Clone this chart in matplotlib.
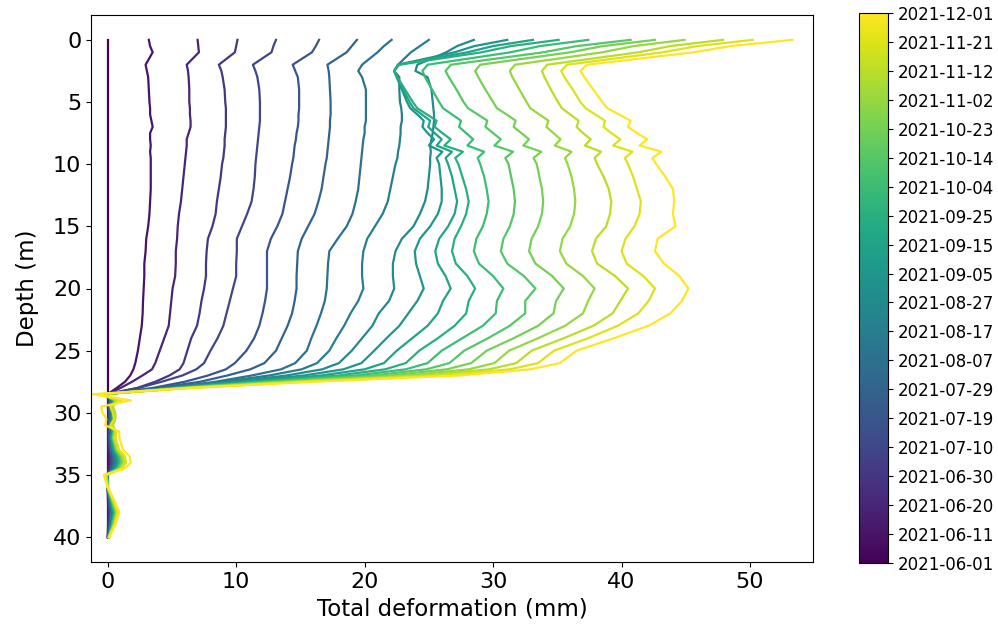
import numpy as np
import matplotlib
matplotlib.use("Agg")
import matplotlib.pyplot as plt
import matplotlib.dates as mdates
from datetime import datetime

# Depth grid (m): upper section then lower section
DEPTH_UP = [0, 0.5, 1, 2, 2.5, 3, 4, 5, 5.5, 6, 6.5, 7, 7.5, 8, 8.5, 9, 9.5, 10,
            11, 12, 13, 14, 15, 16, 17, 18, 19, 20, 21, 22, 23, 24, 25, 26,
            26.5, 27, 27.5, 28]
DEPTH_LO = [28.5, 29, 29.5, 30, 30.5, 31, 31.5, 32, 33, 33.5, 34, 34.5, 35,
            36, 37, 38, 39, 40]

# Total deformation (mm) per survey, upper section
UP_00 = [0.0] * 38
UP_01 = [3.2, 3.3, 3.5, 2.95, 3.05, 3.15, 3.2, 3.25, 3.3, 3.3, 3.4, 3.5, 3.3, 3.3, 3.35, 3.3, 3.35, 3.35,
         3.35, 3.35, 3.3, 3.25, 3.15, 3.0, 2.95, 2.85, 2.85, 2.8, 2.75, 2.72, 2.65, 2.5, 2.35, 2.15, 2.0, 1.75, 1.35, 0.7]
UP_02 = [7.0, 7.05, 7.1, 6.15, 6.25, 6.3, 6.35, 6.35, 6.4, 6.4, 6.45, 6.45, 6.3, 6.15, 6.15, 6.1, 6.05, 6.0,
         5.9, 5.8, 5.7, 5.55, 5.45, 5.4, 5.3, 5.3, 5.25, 5.05, 4.95, 4.85, 4.75, 4.4, 4.05, 3.7, 3.45, 2.7, 1.9, 1.0]
UP_03 = [10.1, 10.0, 9.9, 8.65, 8.85, 8.95, 9.1, 9.15, 9.2, 9.2, 9.2, 9.2, 9.15, 9.1, 9.1, 9.05, 9.0, 8.9,
         8.8, 8.65, 8.5, 8.4, 8.15, 7.8, 7.7, 7.65, 7.65, 7.5, 7.3, 7.15, 6.95, 6.5, 6.2, 5.9, 5.6, 4.8, 3.7, 2.3]
UP_04 = [13.1, 12.9, 12.75, 11.3, 11.5, 11.65, 11.8, 11.85, 11.85, 11.85, 11.85, 11.8, 11.75, 11.7, 11.65, 11.6, 11.55, 11.5,
         11.45, 11.35, 11.2, 10.85, 10.45, 10.05, 10.05, 10.0, 10.0, 9.75, 9.5, 9.25, 9.0, 8.55, 8.0, 7.5, 6.9, 5.8, 4.2, 2.4]
UP_05 = [16.45, 16.2, 15.9, 14.4, 14.6, 14.8, 14.9, 14.9, 14.9, 14.85, 14.85, 14.8, 14.7, 14.65, 14.55, 14.5, 14.45, 14.35,
         14.2, 14.0, 13.8, 13.6, 13.2, 12.7, 12.4, 12.4, 12.4, 12.4, 12.25, 12.05, 11.8, 11.4, 10.8, 9.9, 9.2, 7.8, 6.0, 3.5]
UP_06 = [19.4, 19.0, 18.6, 17.1, 17.2, 17.25, 17.3, 17.35, 17.35, 17.35, 17.3, 17.3, 17.25, 17.2, 17.15, 17.1, 17.05, 16.95,
         16.8, 16.65, 16.4, 16.1, 15.6, 15.1, 14.8, 14.75, 14.7, 14.7, 14.55, 14.35, 14.0, 13.55, 13.1, 12.2, 11.1, 9.3, 7.2, 3.9]
UP_07 = [22.1, 21.5, 21.0, 19.8, 19.5, 19.8, 20.1, 20.1, 20.1, 20.1, 20.1, 20.0, 20.0, 19.9, 19.85, 19.8, 19.75, 19.7,
         19.6, 19.5, 19.3, 19.05, 18.6, 17.9, 17.25, 17.15, 17.1, 17.05, 16.9, 16.6, 16.25, 15.85, 15.5, 14.6, 13.5, 11.2, 8.4, 4.6]
UP_08 = [25.0, 24.3, 23.6, 22.6, 22.3, 22.7, 22.7, 22.75, 22.85, 22.9, 22.9, 22.8, 22.8, 22.75, 22.7, 22.6, 22.55, 22.4,
         22.2, 22.0, 21.8, 21.4, 20.8, 20.2, 19.9, 19.8, 19.8, 19.9, 19.5, 18.9, 18.4, 17.8, 17.25, 16.3, 15.1, 12.55, 9.0, 4.8]
UP_09 = [28.5, 27.2, 26.35, 24.1, 23.95, 24.9, 25.2, 25.3, 25.35, 25.4, 25.4, 25.35, 25.3, 25.2, 25.1, 25.15, 25.1, 25.1,
         25.0, 24.9, 24.7, 24.3, 23.8, 22.9, 22.4, 22.2, 22.2, 22.3, 21.9, 21.1, 20.6, 19.8, 19.0, 18.0, 16.7, 13.9, 9.7, 4.9]
UP_10 = [31.1, 28.55, 27.0, 22.6, 22.3, 22.5, 22.9, 23.3, 23.55, 24.1, 24.6, 24.5, 24.9, 25.4, 25.0, 26.05, 25.6, 25.8,
         25.9, 26.0, 26.0, 25.7, 25.1, 24.3, 23.9, 24.0, 24.3, 24.6, 24.1, 23.4, 22.7, 21.7, 20.75, 19.75, 18.35, 15.25, 10.3, 5.1]
UP_11 = [33.1, 30.0, 28.0, 22.6, 22.3, 22.5, 23.0, 23.5, 23.8, 24.45, 25.1, 24.95, 25.45, 26.0, 25.6, 26.8, 26.3, 26.5,
         26.8, 27.0, 27.2, 27.0, 26.5, 25.8, 25.5, 25.7, 26.3, 26.7, 26.1, 25.7, 24.9, 23.7, 22.5, 21.5, 20.0, 16.6, 10.9, 5.2]
UP_12 = [35.1, 31.4, 29.1, 22.7, 22.3, 22.55, 23.15, 23.75, 24.1, 24.85, 25.6, 25.45, 26.05, 26.7, 26.2, 27.65, 27.05, 27.3,
         27.6, 27.9, 28.1, 27.9, 27.5, 27.0, 26.8, 27.1, 28.0, 28.6, 28.1, 27.9, 27.0, 25.7, 24.25, 23.2, 21.6, 17.95, 11.6, 5.4]
UP_13 = [37.4, 33.65, 31.35, 24.9, 24.5, 24.7, 25.25, 25.8, 26.1, 26.8, 27.5, 27.35, 27.9, 28.45, 28.0, 29.3, 28.8, 29.0,
         29.3, 29.5, 29.65, 29.5, 29.2, 28.7, 28.5, 28.9, 30.0, 30.8, 30.3, 30.2, 29.2, 27.6, 26.0, 24.9, 23.2, 19.3, 12.2, 5.6]
UP_14 = [40.7, 36.5, 33.9, 26.7, 26.3, 26.55, 27.15, 27.7, 28.05, 28.8, 29.55, 29.4, 30.0, 30.6, 30.1, 31.55, 30.95, 31.2,
         31.4, 31.6, 31.7, 31.6, 31.3, 30.8, 30.6, 31.1, 32.4, 33.3, 32.5, 32.5, 31.3, 29.6, 27.75, 26.6, 24.8, 20.65, 12.8, 5.7]
UP_15 = [42.6, 38.55, 36.0, 29.0, 28.6, 28.85, 29.4, 30.0, 30.3, 31.05, 31.75, 31.6, 32.2, 32.8, 32.35, 33.75, 33.15, 33.4,
         33.6, 33.8, 33.9, 33.8, 33.5, 33.0, 32.8, 33.3, 34.6, 35.5, 34.9, 34.7, 33.5, 31.6, 29.5, 28.3, 26.4, 22.0, 13.5, 5.9]
UP_16 = [44.9, 40.95, 38.5, 31.7, 31.3, 31.5, 32.05, 32.6, 32.9, 33.6, 34.3, 34.15, 34.7, 35.25, 34.8, 36.1, 35.6, 35.8,
         36.1, 36.3, 36.4, 36.3, 36.0, 35.4, 35.2, 35.7, 37.0, 37.9, 37.4, 37.0, 35.6, 33.5, 31.25, 30.1, 28.1, 23.35, 14.1, 6.0]
UP_17 = [47.9, 43.8, 41.3, 34.2, 33.8, 34.0, 34.5, 35.05, 35.35, 36.0, 36.65, 36.5, 37.0, 37.6, 37.15, 38.4, 37.9, 38.1,
         38.6, 39.0, 39.2, 39.1, 38.8, 38.0, 37.7, 38.1, 39.5, 40.5, 39.9, 39.3, 37.8, 35.5, 33.0, 31.8, 29.7, 24.7, 14.7, 6.2]
UP_18 = [50.2, 45.9, 43.2, 35.75, 35.3, 35.55, 36.2, 36.8, 37.2, 37.95, 38.7, 38.6, 39.2, 39.9, 39.35, 40.85, 40.25, 40.5,
         40.9, 41.2, 41.5, 41.4, 41.0, 40.3, 40.0, 40.4, 41.7, 42.6, 42.1, 41.3, 39.7, 37.4, 34.75, 33.5, 31.3, 26.05, 15.4, 6.35]
UP_19 = [53.3, 48.5, 45.6, 37.3, 36.8, 37.1, 37.8, 38.5, 38.9, 39.8, 40.7, 40.5, 41.2, 42.0, 41.4, 43.1, 42.4, 42.7,
         43.4, 44.0, 44.1, 44.0, 44.2, 42.8, 42.6, 43.3, 44.5, 45.2, 44.7, 43.8, 42.1, 39.4, 36.5, 35.2, 32.9, 27.4, 16.0, 6.5]

# Lower section
LO_00 = [0.0] * 18
LO_01 = [0, 0.04, 0.02, 0.04, 0.04, 0.02, 0.04, 0.03, 0.05, 0.07, 0.08, 0.06, 0, 0, 0.02, 0.05, 0.03, 0]
LO_02 = [-0.05, 0.08, 0.05, 0.07, 0.07, 0.05, 0.07, 0.06, 0.1, 0.14, 0.16, 0.12, -0.01, 0, 0.05, 0.09, 0.06, 0.01]
LO_03 = [-0.07, 0.13, 0.07, 0.11, 0.11, 0.07, 0.11, 0.09, 0.14, 0.22, 0.23, 0.18, -0.02, 0, 0.07, 0.14, 0.09, 0.02]
LO_04 = [-0.1, 0.17, 0.1, 0.14, 0.14, 0.1, 0.14, 0.12, 0.19, 0.29, 0.31, 0.24, -0.02, 0, 0.1, 0.18, 0.12, 0.02]
LO_05 = [-0.12, 0.2, 0.12, 0.17, 0.17, 0.12, 0.17, 0.15, 0.23, 0.35, 0.38, 0.29, -0.03, 0, 0.12, 0.22, 0.15, 0.03]
LO_06 = [-0.14, 0.25, 0.14, 0.21, 0.21, 0.14, 0.21, 0.18, 0.28, 0.42, 0.46, 0.35, -0.04, 0, 0.14, 0.26, 0.18, 0.04]
LO_07 = [-0.16, 0.29, 0.16, 0.25, 0.25, 0.16, 0.25, 0.21, 0.33, 0.49, 0.53, 0.41, -0.04, 0, 0.16, 0.31, 0.21, 0.04]
LO_08 = [-0.19, 0.33, 0.19, 0.28, 0.28, 0.19, 0.28, 0.24, 0.38, 0.56, 0.61, 0.47, -0.05, 0, 0.19, 0.35, 0.24, 0.05]
LO_09 = [-0.21, 0.37, 0.21, 0.32, 0.32, 0.21, 0.32, 0.27, 0.42, 0.64, 0.69, 0.53, -0.05, 0, 0.21, 0.4, 0.27, 0.05]
LO_10 = [-0.24, 0.41, 0.24, 0.35, 0.35, 0.24, 0.35, 0.3, 0.47, 0.71, 0.77, 0.59, -0.06, 0, 0.24, 0.44, 0.3, 0.06]
LO_11 = [-0.26, 0.46, 0.26, 0.39, 0.39, 0.26, 0.39, 0.33, 0.52, 0.78, 0.85, 0.65, -0.07, 0, 0.26, 0.49, 0.33, 0.07]
LO_12 = [-0.28, 0.5, 0.28, 0.43, 0.43, 0.28, 0.43, 0.36, 0.57, 0.85, 0.92, 0.71, -0.07, 0, 0.28, 0.53, 0.36, 0.07]
LO_13 = [-0.3, 0.53, 0.3, 0.46, 0.46, 0.3, 0.46, 0.38, 0.61, 0.91, 0.99, 0.76, -0.08, 0, 0.3, 0.57, 0.38, 0.08]
LO_14 = [-0.33, 0.57, 0.33, 0.49, 0.49, 0.33, 0.49, 0.41, 0.66, 0.98, 1.07, 0.82, -0.08, 0, 0.33, 0.62, 0.41, 0.08]
LO_15 = [-0.35, 0.62, 0.35, 0.53, 0.53, 0.35, 0.53, 0.44, 0.7, 1.06, 1.14, 0.88, -0.09, 0, 0.35, 0.66, 0.44, 0.09]
LO_16 = [-0.38, 0.66, 0.38, 0.56, 0.56, 0.38, 0.56, 0.47, 0.75, 1.13, 1.22, 0.94, -0.09, 0, 0.38, 0.7, 0.47, 0.09]
LO_17 = [-0.4, 0.7, 0.4, 0.6, 0.6, 0.4, 0.6, 0.5, 0.8, 1.2, 1.3, 1.0, -0.1, 0.0, 0.4, 0.75, 0.5, 0.1]
LO_18 = [-0.7, 1.1, 0.2, 0.4, 0.5, 0.2, 0.7, 0.6, 0.9, 1.35, 1.45, 1.1, -0.2, 0.0, 0.45, 0.8, 0.55, 0.1]
LO_19 = [-1.2, 1.8, -0.5, -0.4, -0.1, -0.2, 0.9, 0.9, 1.2, 1.7, 1.8, 1.3, -0.3, 0.0, 0.5, 0.9, 0.6, 0.1]

UPPER = [UP_00, UP_01, UP_02, UP_03, UP_04, UP_05, UP_06, UP_07, UP_08, UP_09,
         UP_10, UP_11, UP_12, UP_13, UP_14, UP_15, UP_16, UP_17, UP_18, UP_19]
LOWER = [LO_00, LO_01, LO_02, LO_03, LO_04, LO_05, LO_06, LO_07, LO_08, LO_09,
         LO_10, LO_11, LO_12, LO_13, LO_14, LO_15, LO_16, LO_17, LO_18, LO_19]

DATE_START = "2021-06-01"
DATE_END = "2021-12-01"
CBAR_LABELS = ["2021-06-01", "2021-06-11", "2021-06-20", "2021-06-30", "2021-07-10",
               "2021-07-19", "2021-07-29", "2021-08-07", "2021-08-17", "2021-08-27",
               "2021-09-05", "2021-09-15", "2021-09-25", "2021-10-04", "2021-10-14",
               "2021-10-23", "2021-11-02", "2021-11-12", "2021-11-21", "2021-12-01"]

W, H = 998, 631
fig = plt.figure(figsize=(W / 100, H / 100), dpi=100)
ax = fig.add_axes([91 / W, 1 - 562 / H, (813 - 91) / W, (562 - 15) / H])
cax = fig.add_axes([859 / W, 1 - 563 / H, (888 - 859) / W, (563 - 13) / H])

d0 = mdates.date2num(datetime.strptime(DATE_START, "%Y-%m-%d"))
d1 = mdates.date2num(datetime.strptime(DATE_END, "%Y-%m-%d"))
dates = np.linspace(d0, d1, len(UPPER))
norm = matplotlib.colors.Normalize(vmin=d0, vmax=d1)
cmap = plt.get_cmap("viridis")

depth = np.array(DEPTH_UP + DEPTH_LO)
for up, lo, dn in zip(UPPER, LOWER, dates):
    vals = np.array(up + lo)
    assert len(vals) == len(depth)
    ax.plot(vals, depth, color=cmap(norm(dn)), lw=1.6)

ax.set_xlim(-1.3, 54.9)
ax.set_ylim(42, -2)
ax.set_xticks([0, 10, 20, 30, 40, 50])
ax.set_yticks([0, 5, 10, 15, 20, 25, 30, 35, 40])
ax.tick_params(labelsize=16)
ax.set_xlabel("Total deformation (mm)", fontsize=16.5)
ax.set_ylabel("Depth (m)", fontsize=16.5, labelpad=10)

sm = matplotlib.cm.ScalarMappable(norm=norm, cmap=cmap)
cb = fig.colorbar(sm, cax=cax)
cb.set_ticks(np.linspace(d0, d1, len(CBAR_LABELS)))
cb.set_ticklabels(CBAR_LABELS)
cb.ax.tick_params(labelsize=12)

fig.savefig("out.png", dpi=100)
